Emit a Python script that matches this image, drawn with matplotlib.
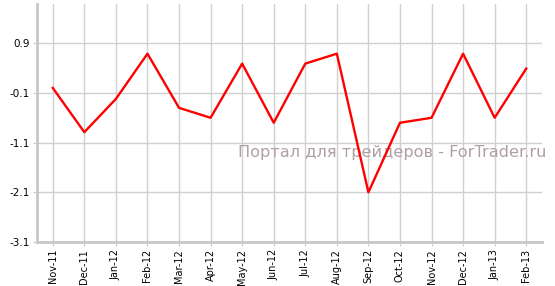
import matplotlib.pyplot as plt

# monthly values
months = ['Nov-11', 'Dec-11', 'Jan-12', 'Feb-12', 'Mar-12', 'Apr-12', 'May-12', 'Jun-12',
          'Jul-12', 'Aug-12', 'Sep-12', 'Oct-12', 'Nov-12', 'Dec-12', 'Jan-13', 'Feb-13']
values = [0.0, -0.89, -0.22, 0.69, -0.40, -0.60, 0.49, -0.70,
          0.49, 0.69, -2.10, -0.70, -0.60, 0.69, -0.60, 0.39]
y_ticks = [0.9, -0.1, -1.1, -2.1, -3.1]

fig = plt.figure(figsize=(5.55, 2.86), dpi=100)
ax = fig.add_axes([37 / 555, 1 - 242 / 286, (542 - 37) / 555, 238 / 286])

x = list(range(len(months)))
ax.plot(x, values, color='#ff0000', linewidth=1.7, zorder=3)

ax.set_xlim(-0.5, len(months) - 0.5)
ax.set_ylim(-3.1, 1.69)
ax.set_xticks(x)
ax.set_xticklabels(months, rotation=90, fontsize=7)
ax.set_yticks(y_ticks)
ax.set_yticklabels([f'{v:.1f}' for v in y_ticks], fontsize=7.5)

ax.grid(True, color='#d0d0d0', linewidth=1)
ax.set_axisbelow(True)
for side in ['top', 'right']:
    ax.spines[side].set_visible(False)
for side in ['left', 'bottom']:
    ax.spines[side].set_color('#c8c8c8')
    ax.spines[side].set_linewidth(2)
ax.tick_params(axis='x', length=3, color='#c8c8c8', pad=2)
ax.tick_params(axis='y', length=3, color='#c8c8c8', pad=2)

# site watermark
ax.text((238 - 37) / 505, (242 - 153) / 238, 'Портал для трейдеров - ForTrader.ru',
        transform=ax.transAxes, ha='left', va='center', fontsize=11.6,
        color='#b0a0a0', zorder=2, clip_on=False)

fig.savefig('out.png', dpi=100)
